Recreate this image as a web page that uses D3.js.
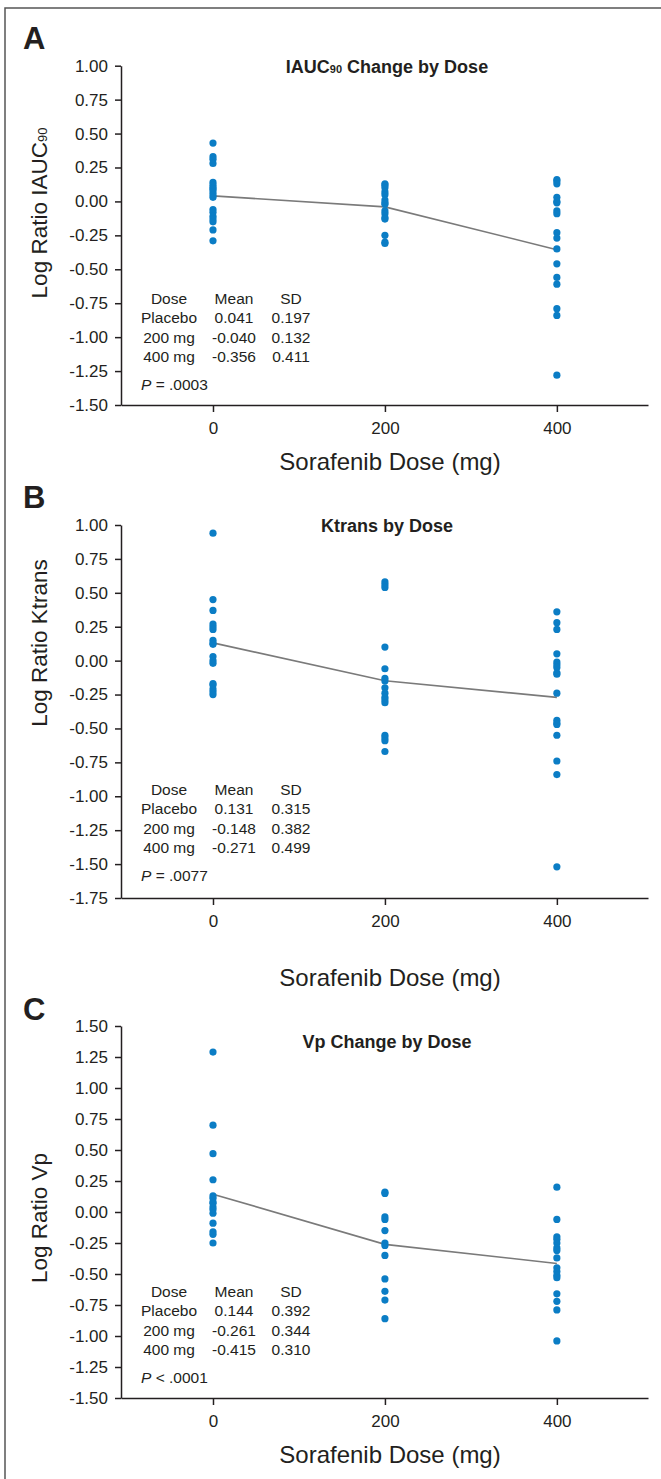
<!DOCTYPE html>
<html>
<head>
<meta charset="utf-8">
<script src="https://cdn.jsdelivr.net/npm/d3@7"></script>
<style>
  html, body { margin: 0; padding: 0; background: #fff; }
  svg { display: block; font-family: "Liberation Sans", Arial, sans-serif; }
</style>
</head>
<body>
<div id="graphicContainer"></div>
<script>

// doses on the x axis
var doses = [0, 200, 400];
var doseTicks = [0, 200, 400];
var doseNames = ["Placebo", "200 mg", "400 mg"];

// A: IAUC90 log ratios
var iaucPlacebo = [0.43, 0.33, 0.31, 0.28, 0.14, 0.12, 0.10, 0.09, 0.07, 0.05, 0.03, -0.06, -0.08, -0.11, -0.13, -0.15, -0.21, -0.29];
var iauc200 = [0.13, 0.12, 0.10, 0.07, 0.05, 0.01, -0.01, -0.02, -0.07, -0.09, -0.12, -0.13, -0.25, -0.30, -0.31];
var iauc400 = [0.16, 0.15, 0.13, 0.03, 0.00, -0.01, -0.07, -0.09, -0.23, -0.27, -0.35, -0.46, -0.56, -0.61, -0.79, -0.84, -1.28];
var iaucMean = ["0.041", "-0.040", "-0.356"];
var iaucSD = ["0.197", "0.132", "0.411"];
var iaucTicks = [1.00, 0.75, 0.50, 0.25, 0, -0.25, -0.50, -0.75, -1.00, -1.25, -1.50];

// B: Ktrans log ratios
var ktransPlacebo = [0.94, 0.45, 0.37, 0.27, 0.25, 0.23, 0.15, 0.13, 0.12, 0.03, 0.00, -0.02, -0.17, -0.18, -0.21, -0.23, -0.25];
var ktrans200 = [0.58, 0.56, 0.54, 0.10, -0.06, -0.13, -0.15, -0.20, -0.24, -0.27, -0.29, -0.31, -0.55, -0.57, -0.59, -0.67];
var ktrans400 = [0.36, 0.28, 0.23, 0.05, -0.01, -0.03, -0.05, -0.09, -0.10, -0.24, -0.44, -0.46, -0.47, -0.55, -0.74, -0.84, -1.52];
var ktransMean = ["0.131", "-0.148", "-0.271"];
var ktransSD = ["0.315", "0.382", "0.499"];
var ktransTicks = [1.00, 0.75, 0.50, 0.25, 0, -0.25, -0.50, -0.75, -1.00, -1.25, -1.50, -1.75];

// C: Vp log ratios
var vpPlacebo = [1.29, 0.70, 0.47, 0.26, 0.13, 0.11, 0.08, 0.07, 0.04, 0.02, -0.01, -0.09, -0.16, -0.18, -0.25];
var vp200 = [0.16, 0.15, -0.04, -0.06, -0.15, -0.25, -0.27, -0.35, -0.54, -0.64, -0.71, -0.86];
var vp400 = [0.20, -0.06, -0.20, -0.22, -0.25, -0.29, -0.31, -0.37, -0.45, -0.48, -0.51, -0.53, -0.66, -0.72, -0.79, -1.04];
var vpMean = ["0.144", "-0.261", "-0.415"];
var vpSD = ["0.392", "0.344", "0.310"];
var vpTicks = [1.50, 1.25, 1.00, 0.75, 0.50, 0.25, 0, -0.25, -0.50, -0.75, -1.00, -1.25, -1.50];

var panels = [
  { letter: "A", title: ["IAUC", "90", " Change by Dose"], ylab: ["Log Ratio IAUC", "90"],
    series: [iaucPlacebo, iauc200, iauc400], mean: iaucMean, sd: iaucSD, ticks: iaucTicks,
    pSign: "=", pVal: ".0003",
    top: 65.7, bottom: 405, letterY: 49, titleY: 73, ylabY: 213, tableY: 304, xlabY: 470 },
  { letter: "B", title: ["Ktrans by Dose"], ylab: ["Log Ratio Ktrans"],
    series: [ktransPlacebo, ktrans200, ktrans400], mean: ktransMean, sd: ktransSD, ticks: ktransTicks,
    pSign: "=", pVal: ".0077",
    top: 525, bottom: 898, letterY: 508, titleY: 532, ylabY: 643, tableY: 795, xlabY: 986 },
  { letter: "C", title: ["Vp Change by Dose"], ylab: ["Log Ratio Vp"],
    series: [vpPlacebo, vp200, vp400], mean: vpMean, sd: vpSD, ticks: vpTicks,
    pSign: "<", pVal: ".0001",
    top: 1026, bottom: 1398, letterY: 1020, titleY: 1048, ylabY: 1218, tableY: 1297, xlabY: 1463 }
];

var svg = d3.select("#graphicContainer").append("svg")
    .attr("width", 661)
    .attr("height", 1479);

// outer frame (open to the right / bottom like the source)
svg.append("rect")
    .attr("x", 5).attr("y", 8)
    .attr("width", 720).attr("height", 1520)
    .attr("fill", "none")
    .attr("stroke", "#555")
    .attr("stroke-width", 1.5);

var x = d3.scaleLinear().domain([-107, 506]).range([121, 648]);

panels.forEach(function(p) {

    var y = d3.scaleLinear()
        .domain([p.ticks[p.ticks.length - 1], p.ticks[0]])
        .range([p.bottom, p.top]);

    var g = svg.append("g");

    // panel letter
    g.append("text")
        .attr("x", 23).attr("y", p.letterY)
        .attr("font-size", 31).attr("font-weight", "bold")
        .attr("fill", "#231f20")
        .text(p.letter);

    // title
    var t = g.append("text")
        .attr("x", 387).attr("y", p.titleY)
        .attr("text-anchor", "middle")
        .attr("font-size", 18).attr("font-weight", "bold")
        .attr("fill", "#231f20");
    p.title.forEach(function(s, i) {
        t.append("tspan")
            .attr("font-size", i === 1 ? 11 : 18)
            .text(s);
    });

    // y label
    var yl = g.append("text")
        .attr("transform", "translate(47," + p.ylabY + ") rotate(-90)")
        .attr("text-anchor", "middle")
        .attr("font-size", 22.5)
        .attr("fill", "#231f20");
    p.ylab.forEach(function(s, i) {
        yl.append("tspan")
            .attr("font-size", i === 1 ? 13 : 22.5)
            .text(s);
    });

    // axes
    var yAxis = d3.axisLeft(y)
        .tickValues(p.ticks)
        .tickFormat(function(d) { return d.toFixed(2); })
        .tickSize(6)
        .tickSizeOuter(0)
        .tickPadding(7);

    var xAxis = d3.axisBottom(x)
        .tickValues(doseTicks)
        .tickSize(7)
        .tickSizeOuter(0);

    var ya = g.append("g")
        .attr("class", "y axis")
        .attr("transform", "translate(121,0)")
        .call(yAxis);

    var xa = g.append("g")
        .attr("class", "x axis")
        .attr("transform", "translate(0," + p.bottom + ")")
        .call(xAxis);

    g.selectAll(".axis path, .axis line")
        .attr("stroke", "#231f20")
        .attr("stroke-width", 1.5);
    g.selectAll(".axis text")
        .attr("font-family", "'Liberation Sans', Arial, sans-serif")
        .attr("font-size", 17)
        .attr("fill", "#231f20");
    xa.selectAll("text").attr("y", 28.5).attr("dy", 0);

    // x label
    g.append("text")
        .attr("x", 390).attr("y", p.xlabY)
        .attr("text-anchor", "middle")
        .attr("font-size", 24)
        .attr("fill", "#231f20")
        .text("Sorafenib Dose (mg)");

    // mean line
    var meanPts = doses.map(function(d, i) { return [d, +p.mean[i]]; });
    var line = d3.line()
        .x(function(d) { return x(d[0]); })
        .y(function(d) { return y(d[1]); });
    g.append("path")
        .datum(meanPts)
        .attr("d", line)
        .attr("fill", "none")
        .attr("stroke", "#7a7a7a")
        .attr("stroke-width", 1.6);

    // points
    p.series.forEach(function(vals, i) {
        g.selectAll(null)
            .data(vals)
            .enter().append("circle")
            .attr("cx", x(doses[i]))
            .attr("cy", function(d) { return y(d); })
            .attr("r", 3.6)
            .attr("fill", "#0b7dc5");
    });

    // stats table
    var cols = [169, 234, 291];
    var tab = g.append("g")
        .attr("font-size", 15.5)
        .attr("fill", "#231f20")
        .attr("text-anchor", "middle");
    ["Dose", "Mean", "SD"].forEach(function(h, j) {
        tab.append("text").attr("x", cols[j]).attr("y", p.tableY).text(h);
    });
    doseNames.forEach(function(n, i) {
        var ry = p.tableY + 19.3 * (i + 1);
        tab.append("text").attr("x", cols[0]).attr("y", ry).text(n);
        tab.append("text").attr("x", cols[1]).attr("y", ry).text(p.mean[i]);
        tab.append("text").attr("x", cols[2]).attr("y", ry).text(p.sd[i]);
    });
    var pt = g.append("text")
        .attr("x", 141).attr("y", p.tableY + 86)
        .attr("font-size", 15.5)
        .attr("fill", "#231f20");
    pt.append("tspan").attr("font-style", "italic").text("P");
    pt.append("tspan").text(" " + p.pSign + " " + p.pVal);
});

</script>
</body>
</html>
